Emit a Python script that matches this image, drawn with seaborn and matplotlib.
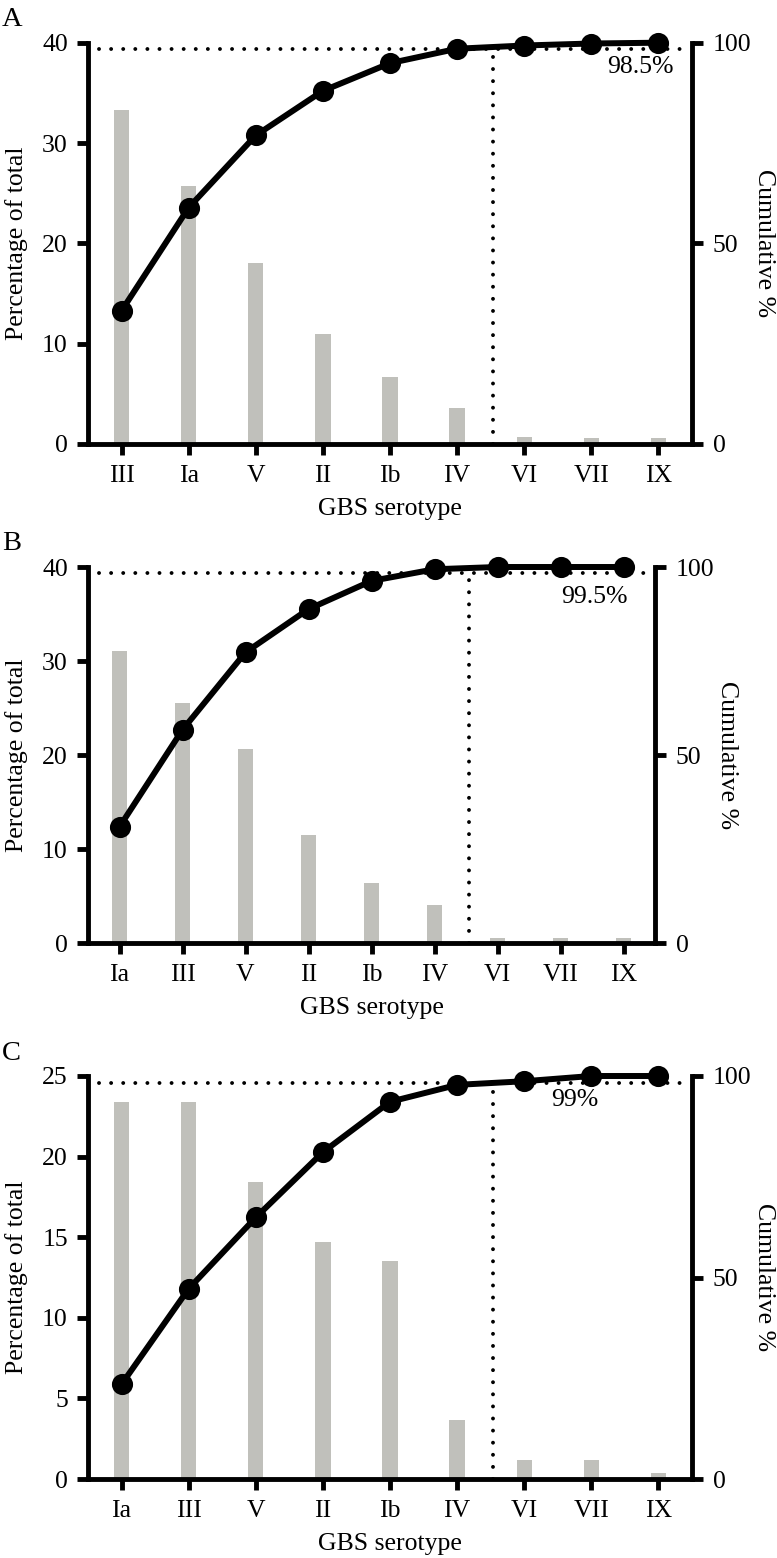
import matplotlib
matplotlib.use("Agg")
import matplotlib.pyplot as plt
import seaborn as sns
import pandas as pd

# serotype order and values
serotypes_a = ["III", "Ia", "V", "II", "Ib", "IV", "VI", "VII", "IX"]
pct_a = [33.3, 25.7, 18.0, 11.0, 6.7, 3.6, 0.7, 0.55, 0.55]
cum_a = [33.2, 58.9, 76.9, 88.0, 94.9, 98.5, 99.3, 99.8, 100.0]

serotypes_b = ["Ia", "III", "V", "II", "Ib", "IV", "VI", "VII", "IX"]
pct_b = [31.1, 25.5, 20.6, 11.5, 6.4, 4.0, 0.5, 0.5, 0.5]
cum_b = [30.9, 56.7, 77.3, 88.8, 96.3, 99.4, 100.0, 100.0, 100.0]

serotypes_c = ["Ia", "III", "V", "II", "Ib", "IV", "VI", "VII", "IX"]
pct_c = [23.4, 23.4, 18.4, 14.7, 13.5, 3.65, 1.2, 1.2, 0.4]
cum_c = [23.5, 47.2, 64.9, 81.1, 93.6, 97.8, 98.7, 100.0, 100.0]

panel_names = ["A", "B", "C"]
cutoff_text = ["98.5%", "99.5%", "99%"]
cutoff_level = [98.5, 98.5, 98.2]
left_max = [40, 40, 25]
left_ticks = [[0, 10, 20, 30, 40], [0, 10, 20, 30, 40], [0, 5, 10, 15, 20, 25]]

# layout (pixels in the 777x1558 figure): left, top, right, bottom of each axes
W, H = 777, 1558
boxes = [(88, 42.7, 692, 444), (88, 567, 655, 943), (88, 1076, 692, 1479)]
cutoff_text_pos = [(7.73, 93.9), (7.53, 92.0), (6.76, 94.0)]
cutoff_x = 5.54

sns.set_style("ticks")
plt.rcParams["font.family"] = ["Liberation Serif", "DejaVu Serif"]
plt.rcParams["font.size"] = 18.5
for key in ["axes.edgecolor", "xtick.color", "ytick.color", "text.color", "axes.labelcolor"]:
    plt.rcParams[key] = "black"

bar_grey = "#c0c0bb"
lw_axis = 3.5
dots = (0, (0.01, 3.1))

fig = plt.figure(figsize=(7.77, 15.58), dpi=100)

panels = [(serotypes_a, pct_a, cum_a), (serotypes_b, pct_b, cum_b), (serotypes_c, pct_c, cum_c)]

for i, (cats, pct, cum) in enumerate(panels):
    l, t, r, b = boxes[i]
    ax = fig.add_axes([l / W, 1 - b / H, (r - l) / W, (b - t) / H])
    df = pd.DataFrame({"serotype": cats, "pct": pct, "cum": cum})

    sns.barplot(data=df, x="serotype", y="pct", order=cats, color=bar_grey,
                saturation=1, width=0.23, linewidth=0, ax=ax)

    ax2 = ax.twinx()
    lvl = cutoff_level[i]
    ax2.plot([-0.33, 8.35], [lvl, lvl], color="black", lw=2.8,
             ls=dots, dash_capstyle="round", zorder=1)
    ax2.plot([cutoff_x, cutoff_x], [0, lvl], color="black", lw=2.8,
             ls=dots, dash_capstyle="round", zorder=1)
    sns.pointplot(data=df, x="serotype", y="cum", order=cats, color="black",
                  markers="o", markersize=12, linewidth=4.3, errorbar=None, ax=ax2)
    for ln in ax2.lines:
        ln.set_clip_on(False)
    tx, ty = cutoff_text_pos[i]
    ax2.text(tx, ty, cutoff_text[i], ha="center", va="center", fontsize=18.5)

    ax.set_xlim(-0.5, 8.5)
    ax.set_ylim(0, left_max[i])
    ax.set_yticks(left_ticks[i])
    ax2.set_ylim(0, 100)
    ax2.set_yticks([0, 50, 100])

    ax.spines[["top", "right"]].set_visible(False)
    ax2.spines[["top", "left", "bottom"]].set_visible(False)
    for sp in list(ax.spines.values()) + list(ax2.spines.values()):
        sp.set_linewidth(lw_axis)
        sp.set_color("black")

    ax.tick_params(axis="y", width=lw_axis, length=8, pad=6.5, labelsize=18.5, color="black")
    ax.tick_params(axis="x", width=lw_axis, length=8, pad=7, labelsize=18.5, color="black")
    ax2.tick_params(axis="y", width=lw_axis, length=8, pad=7, labelsize=18.5, color="black")

    ax.set_xlabel("GBS serotype", labelpad=8)
    ax.set_ylabel("Percentage of total", labelpad=10)
    ax2.set_ylabel("Cumulative %", rotation=270, va="bottom", labelpad=1)

    fig.text(2 / W, 1 - (t - 23) / H, panel_names[i], ha="left", va="center", fontsize=20.5)

fig.savefig("out.png", dpi=100)
